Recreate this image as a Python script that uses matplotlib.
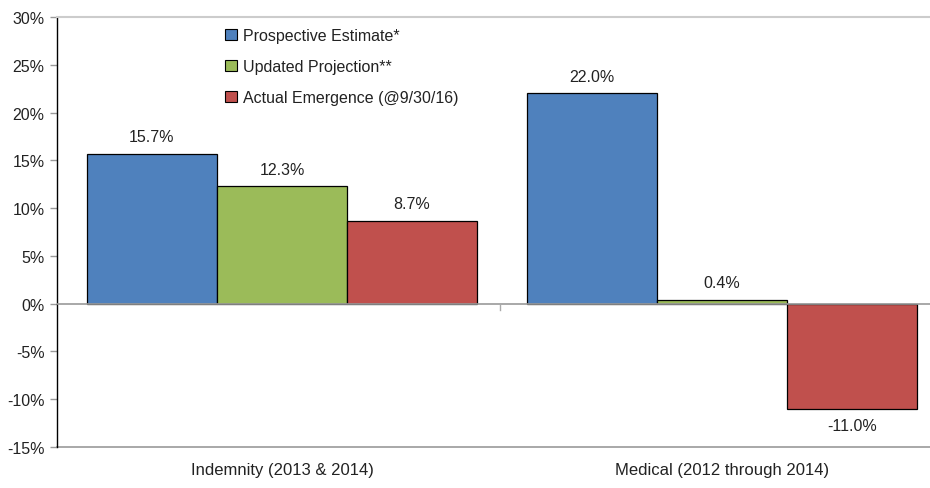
import matplotlib.pyplot as plt
import numpy as np
from matplotlib.patches import Patch

plt.rcParams['font.family'] = ['Liberation Sans', 'DejaVu Sans']

categories = ["Indemnity (2013 & 2014)", "Medical (2012 through 2014)"]
series_names = ["Prospective Estimate*", "Updated Projection**", "Actual Emergence (@9/30/16)"]
prospective = [15.7, 22.0]
updated = [12.3, 0.4]
actual = [8.7, -11.0]
colors = ["#4f81bd", "#9bbb59", "#c0504d"]

fig = plt.figure(figsize=(9.3, 4.89), dpi=100)
ax = fig.add_axes([57 / 930, 1 - 448 / 489, 1 - 57 / 930, (448 - 18) / 489])

x = np.arange(len(categories))
width = 0.2955
offsets = [-width, 0, width]
for vals, off, col in zip([prospective, updated, actual], offsets, colors):
    bars = ax.bar(x + off, vals, width, color=col, edgecolor="black", linewidth=0.9, zorder=3)
    for b, v in zip(bars, vals):
        if v >= 0:
            ax.text(b.get_x() + b.get_width() / 2, v + 1.0, "%.1f%%" % v,
                    ha="center", va="bottom", fontsize=11.5, color="#222222")
        else:
            ax.text(b.get_x() + b.get_width() / 2, v - 1.0, "%.1f%%" % v,
                    ha="center", va="top", fontsize=11.5, color="#222222")

ax.set_xlim(-225 / 440, 648 / 440)
ax.set_ylim(-15, 30)
ax.set_yticks(np.arange(-15, 31, 5))
ax.set_yticklabels(["%d%%" % t for t in np.arange(-15, 31, 5)], fontsize=11.5, color="#222222")
ax.tick_params(axis="y", length=5, color="#999999", width=1, pad=4)

# category labels sit below the plot, the only x tick is the divider on the zero line
ax.set_xticks([])
for i, c in enumerate(categories):
    ax.text(i, -16.6, c, ha="center", va="top", fontsize=12, color="#222222")
ax.axhline(0, color="#999999", linewidth=1.2, zorder=4)
ax.plot([0.495, 0.495], [0, -0.7], color="#aaaaaa", linewidth=1, zorder=4, clip_on=False)
ax.axhline(-15, color="#999999", linewidth=1.2, clip_on=False)

for s in ["right", "bottom"]:
    ax.spines[s].set_visible(False)
ax.spines["top"].set_color("#cccccc")
ax.spines["top"].set_linewidth(1.5)
ax.spines["left"].set_color("black")
ax.spines["left"].set_linewidth(1)

handles = [Patch(facecolor=c, edgecolor="black", linewidth=0.8) for c in colors]
leg = ax.legend(handles, series_names, loc="upper left", bbox_to_anchor=(0.18, 1.0),
                frameon=False, fontsize=11.5, handlelength=0.75, handleheight=0.75,
                handletextpad=0.35, labelspacing=1.0, borderaxespad=0.3)
for t in leg.get_texts():
    t.set_color("#222222")

fig.savefig("out.png", dpi=100)
